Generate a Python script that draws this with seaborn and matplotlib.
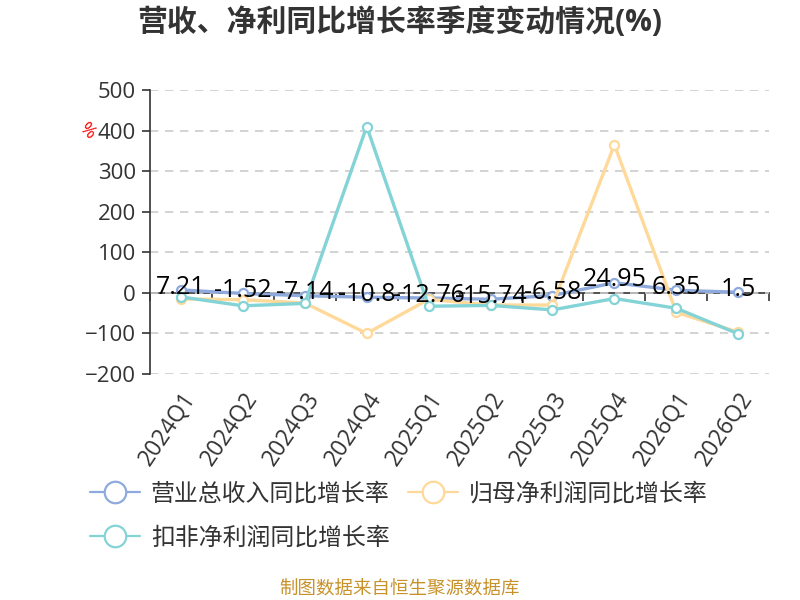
import pandas as pd
import matplotlib
matplotlib.use("Agg")
import matplotlib.pyplot as plt
import seaborn as sns
from matplotlib.lines import Line2D

quarters = ['2024Q1', '2024Q2', '2024Q3', '2024Q4', '2025Q1', '2025Q2',
            '2025Q3', '2025Q4', '2026Q1', '2026Q2']
revenue_yoy = [7.21, -1.52, -7.14, -10.8, -12.76, -15.74, -6.58, 24.95, 6.35, 1.5]
net_profit_yoy = [-15, -17, -25, -100, -16, -30, -30, 365, -48, -97]
deducted_profit_yoy = [-10, -32, -26, 410, -33, -31, -42, -14, -38, -101]

series_names = ['营业总收入同比增长率', '归母净利润同比增长率', '扣非净利润同比增长率']
colors = ['#8eaadc', '#ffd999', '#84d3d6']

sns.set_theme(style='white')
plt.rcParams['font.family'] = ['Open Sans', 'Noto Sans CJK SC', 'DejaVu Sans']

df = pd.DataFrame({
    'quarter': quarters,
    series_names[0]: revenue_yoy,
    series_names[1]: net_profit_yoy,
    series_names[2]: deducted_profit_yoy,
})
df['pos'] = range(len(quarters))
long = df.melt(id_vars=['quarter', 'pos'], var_name='series', value_name='value')

fig = plt.figure(figsize=(8, 6), dpi=100)
ax = fig.add_axes([0.1875, 0.3767, 0.774, 0.4733])

sns.lineplot(data=long, x='pos', y='value', hue='series', hue_order=series_names,
             palette=colors, marker='o', markersize=6.5, markerfacecolor='white',
             markeredgewidth=1.6, linewidth=2.4, sort=False, legend=False, ax=ax)
for line, c in zip(ax.lines, colors):
    line.set_markeredgecolor(c)

# data labels on the revenue series (they overlap in the original too)
for i, v in enumerate(revenue_yoy):
    ax.annotate(f'{v:g}', (i, v), xytext=(0, 2), textcoords='offset points',
                ha='center', va='center', fontsize=18, color='black', zorder=10)

ax.set_xlim(-0.5, len(quarters) - 0.5)
ax.set_ylim(-200, 500)
ax.set_yticks(range(-200, 501, 100))
ax.yaxis.grid(True, linestyle=(0, (5, 4)), color='#cccccc', linewidth=1.2)
ax.set_axisbelow(True)
ax.tick_params(axis='y', labelsize=16, colors='#333333', length=6, width=1.2,
               direction='out', left=True, pad=4)
ax.set_xlabel('')
ax.set_ylabel('')

for s in ['top', 'right', 'bottom']:
    ax.spines[s].set_visible(False)
ax.spines['left'].set_color('#333333')
ax.spines['left'].set_linewidth(1.2)

ax.set_xticks(range(len(quarters)))
ax.set_xticklabels(quarters, rotation=56, ha='right', rotation_mode='anchor',
                   fontsize=16.5, color='#333333')
ax.tick_params(axis='x', length=0, pad=10)

# zero line axis with ticks at category boundaries
zero_frac = 200 / 700
sec = ax.secondary_xaxis(zero_frac)
sec.set_xticks([i - 0.5 for i in range(len(quarters) + 1)])
sec.set_xticklabels([])
sec.tick_params(length=6, width=1.2, color='#333333', direction='out')
sec.spines['bottom'].set_color('#333333')
sec.spines['bottom'].set_linewidth(1.2)

ax.text(-0.102, 0.856, '%', transform=ax.transAxes, color='red', fontsize=13,
        rotation=-45, ha='center', va='center')

fig.text(0.5, 0.962, '营收、净利同比增长率季度变动情况(%)', ha='center', va='center',
         fontsize=21.5, fontweight='bold', color='#333333')

# legend: column-wise fill, so order gives rows [营业, 归母] / [扣非]
order = [0, 2, 1]
handles = [Line2D([0], [0], color=colors[k], linewidth=1.6, marker='o', markersize=15.5,
                  markerfacecolor='white', markeredgewidth=1.6, markeredgecolor=colors[k])
           for k in order]
fig.legend(handles, [series_names[k] for k in order], loc='upper left',
           bbox_to_anchor=(0.1125, 0.196), ncol=2, frameon=False, fontsize=17.2,
           handlelength=2.1, handletextpad=0.45, columnspacing=0.75, labelspacing=0.85,
           borderpad=0, borderaxespad=0, labelcolor='#333333')

fig.text(0.5, 0.018, '制图数据来自恒生聚源数据库', ha='center', va='center',
         fontsize=13.3, color='#c8922b')

fig.savefig('out.png', dpi=100)
